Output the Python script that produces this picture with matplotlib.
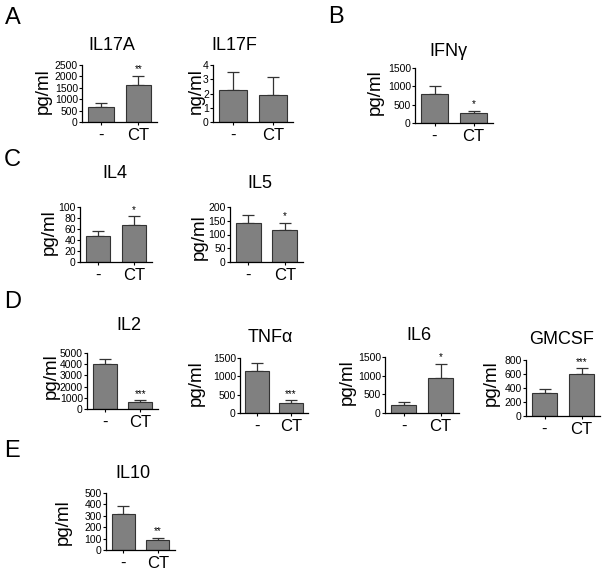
import numpy as np
import matplotlib
matplotlib.use("Agg")
import matplotlib.pyplot as plt

plt.rcParams['font.family'] = ['Liberation Sans', 'DejaVu Sans']

W, H = 602, 572

groups = ["-", "CT"]

# cytokine means and upper error (mean + SEM)
il17a_mean = [658, 1608]
il17a_top = [833, 2018]
il17f_mean = [2.22, 1.89]
il17f_top = [3.53, 3.13]
ifng_mean = [786, 262]
ifng_top = [1012, 325]
il4_mean = [46.7, 67.3]
il4_top = [55.8, 83.0]
il5_mean = [142, 118]
il5_top = [170, 142]
il2_mean = [3994, 651]
il2_top = [4438, 769]
tnfa_mean = [1150, 269]
tnfa_top = [1374, 341]
il6_mean = [220, 944]
il6_top = [282, 1306]
gmcsf_mean = [333, 595]
gmcsf_top = [386, 681]
il10_mean = [318, 88]
il10_top = [382, 103]

stars = {"IL17A": "**", "IL17F": "", "IFNγ": "*", "IL4": "*", "IL5": "*",
         "IL2": "***", "TNFα": "***", "IL6": "*", "GMCSF": "***", "IL10": "**"}


def px_axes(fig, left, right, top, bottom):
    return fig.add_axes([left / W, 1 - bottom / H, (right - left) / W, (bottom - top) / H])


def panel(fig, box, mean, top, ymax, step, title, tpos, ylab, lpos):
    ax = px_axes(fig, *box)
    x = np.arange(2)
    ax.bar(x, mean, width=0.68, color="#808080", edgecolor="#333333", lw=0.8, zorder=2)
    err = np.array(top) - np.array(mean)
    ax.errorbar(x, mean, yerr=[np.zeros(2), err], fmt="none", ecolor="#333333",
                elinewidth=0.9, capsize=4, capthick=0.9, zorder=1)
    s = stars[title]
    if s:
        ax.text(1, top[1] + ymax * 0.03, s, ha="center", va="bottom", fontsize=7)
    ax.set_xlim(-0.5, 1.5)
    ax.set_ylim(0, ymax)
    ax.set_yticks(np.arange(0, ymax + step / 2, step))
    ax.set_xticks(x)
    ax.set_xticklabels(groups, fontsize=12)
    ax.tick_params(axis="y", labelsize=7.5, length=2.5, width=0.8, pad=0.5)
    ax.tick_params(axis="x", length=2.5, width=0.8, pad=1.5)
    for sp in ["top", "right"]:
        ax.spines[sp].set_visible(False)
    for sp in ["left", "bottom"]:
        ax.spines[sp].set_linewidth(0.9)
    fig.text(tpos[0] / W, 1 - tpos[1] / H, title, ha="center", va="center", fontsize=13)
    fig.text(lpos[0] / W, 1 - lpos[1] / H, ylab, ha="center", va="center",
             rotation=90, fontsize=13.5)
    return ax


fig = plt.figure(figsize=(W / 100, H / 100), dpi=100)

panel(fig, (82, 157, 65, 122), il17a_mean, il17a_top, 2500, 500, "IL17A", (112, 45), "pg/ml", (43, 91))
panel(fig, (213, 293, 65, 122), il17f_mean, il17f_top, 4, 1, "IL17F", (234, 45), "ng/ml", (196, 91))
panel(fig, (415, 493, 68, 123), ifng_mean, ifng_top, 1500, 500, "IFNγ", (448, 52), "pg/ml", (375, 92))
panel(fig, (80, 152, 207, 262), il4_mean, il4_top, 100, 20, "IL4", (115, 174), "pg/ml", (49, 232))
panel(fig, (230, 303, 207, 262), il5_mean, il5_top, 200, 50, "IL5", (260, 183), "pg/ml", (199, 237))
panel(fig, (87, 158, 353, 409), il2_mean, il2_top, 5000, 1000, "IL2", (129, 325), "pg/ml", (51, 376))
panel(fig, (240, 308, 358, 413), tnfa_mean, tnfa_top, 1500, 500, "TNFα", (270, 337), "pg/ml", (196, 383))
panel(fig, (385, 459, 357, 413), il6_mean, il6_top, 1500, 500, "IL6", (419, 335), "pg/ml", (347, 382))
panel(fig, (526, 600, 360, 416), gmcsf_mean, gmcsf_top, 800, 200, "GMCSF", (562, 339), "pg/ml", (491, 383))
panel(fig, (106, 175, 493, 550), il10_mean, il10_top, 500, 100, "IL10", (133, 473), "pg/ml", (63, 522))

# panel letters
for letter, (lx, ly) in {"A": (13, 18), "B": (336, 17), "C": (12, 160),
                         "D": (13, 302), "E": (12, 451)}.items():
    fig.text(lx / W, 1 - ly / H, letter, ha="center", va="center", fontsize=17)

fig.savefig("out.png", dpi=100)
